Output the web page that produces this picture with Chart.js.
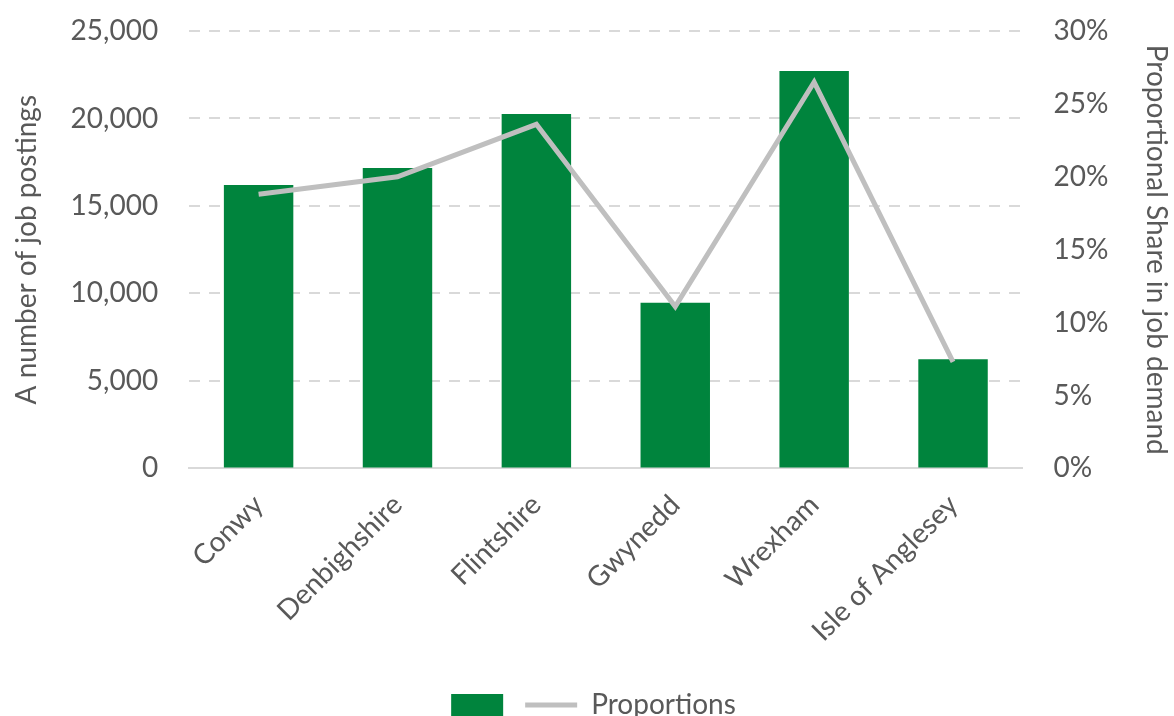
<!DOCTYPE html>
<html>
<head>
<meta charset="utf-8">
<script src="https://cdn.jsdelivr.net/npm/chart.js@4.4.1/dist/chart.umd.min.js"></script>
<style>
  html, body { margin: 0; padding: 0; background: #fff; }
  #wrap { width: 1174px; height: 716px; }
</style>
</head>
<body>
<div id="wrap"><canvas id="myChart"></canvas></div>
<script>
// data
const areas = ['Conwy', 'Denbighshire', 'Flintshire', 'Gwynedd', 'Wrexham', 'Isle of Anglesey'];
const postings = [16200, 17170, 20250, 9470, 22720, 6240];
const proportions = [18.8, 20.0, 23.6, 11.1, 26.5, 7.3];   // percent
const leftTicks = [0, 5000, 10000, 15000, 20000, 25000];
const rightTicks = [0, 5, 10, 15, 20, 25, 30];

const txt = '#595959';
const green = '#00843D';
const grey = '#BFBFBF';
const font = { family: 'Lato', size: 28 };

// stop the vertical axes from reserving extra room above/below the plot
function noVPad(scale) {
    scale.paddingTop = 0;
    scale.paddingBottom = 0;
}

const ctx = document.getElementById('myChart').getContext('2d');
const myChart = new Chart(ctx, {
    type: 'bar',
    data: {
        labels: areas,
        datasets: [{
            type: 'line',
            label: 'Proportions',
            data: proportions,
            yAxisID: 'y1',
            borderColor: grey,
            backgroundColor: grey,
            borderWidth: 5,
            pointRadius: 0,
            tension: 0,
            order: 0
        }, {
            label: '',
            data: postings,
            yAxisID: 'y',
            backgroundColor: green,
            categoryPercentage: 1,
            barPercentage: 0.5,
            order: 1
        }]
    },
    options: {
        responsive: true,
        maintainAspectRatio: false,
        animation: false,
        layout: { padding: { top: 31, left: 10, right: -3, bottom: -13 } },
        plugins: {
            tooltip: { enabled: false },
            legend: {
                position: 'bottom',
                reverse: true,
                labels: {
                    font: font,
                    color: txt,
                    usePointStyle: true,
                    pointStyleWidth: 52,
                    boxHeight: 22,
                    padding: 8,
                    generateLabels: function(chart) {
                        const items = Chart.defaults.plugins.legend.labels.generateLabels(chart);
                        items.forEach(function(it) {
                            const ds = chart.data.datasets[it.datasetIndex];
                            if (ds.type === 'line') {
                                it.pointStyle = 'line';
                                it.strokeStyle = grey;
                                it.lineWidth = 5;
                            } else {
                                it.pointStyle = 'rect';
                                it.fillStyle = green;
                                it.strokeStyle = green;
                                it.lineWidth = 0;
                            }
                        });
                        return items;
                    }
                }
            }
        },
        scales: {
            x: {
                grid: { display: false },
                border: { display: true, color: '#D9D9D9', width: 2 },
                ticks: {
                    font: font,
                    color: txt,
                    maxRotation: 45,
                    minRotation: 45,
                    padding: 12
                },
                afterFit: function(scale) {
                    scale.height += 23;
                    scale.paddingLeft = 0;
                    scale.paddingRight = 0;
                }
            },
            y: {
                position: 'left',
                min: 0,
                max: 25000,
                afterBuildTicks: function(axis) {
                    axis.ticks = leftTicks.map(function(v) { return { value: v }; });
                },
                afterFit: noVPad,
                ticks: {
                    font: font,
                    color: txt,
                    padding: 31,
                    callback: function(v) { return v.toLocaleString('en-GB'); }
                },
                grid: { color: '#D9D9D9', lineWidth: 2, drawTicks: false },
                border: { display: false, dash: [11, 9] },
                title: {
                    display: true,
                    text: 'A number of job postings',
                    font: font,
                    color: txt,
                    padding: { top: 0, bottom: -4 }
                }
            },
            y1: {
                position: 'right',
                min: 0,
                max: 30,
                afterBuildTicks: function(axis) {
                    axis.ticks = rightTicks.map(function(v) { return { value: v }; });
                },
                afterFit: noVPad,
                ticks: {
                    font: font,
                    color: txt,
                    padding: 31,
                    callback: function(v) { return v + '%'; }
                },
                grid: { display: false, drawTicks: false },
                border: { display: false },
                title: {
                    display: true,
                    text: 'Proportional Share in job demand',
                    font: font,
                    color: txt,
                    padding: { top: 4, bottom: 0 }
                }
            }
        }
    }
});
</script>
</body>
</html>
